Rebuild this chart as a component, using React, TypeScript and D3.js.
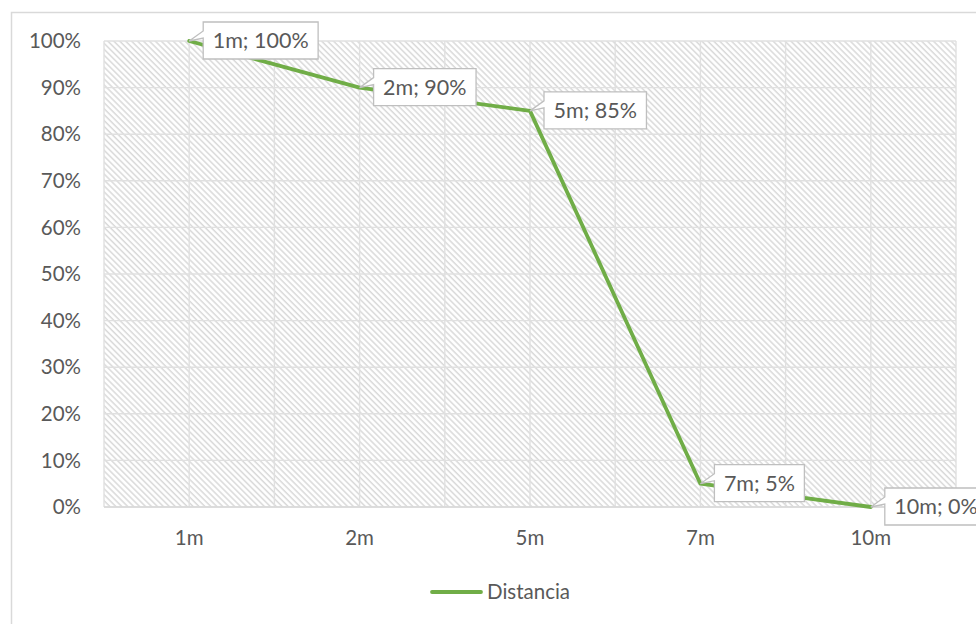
import React from "react";
import * as d3 from "d3";

const categories = ["1m", "2m", "5m", "7m", "10m"];
const values = [1.0, 0.9, 0.85, 0.05, 0.0];
const yTicks = [0, 0.1, 0.2, 0.3, 0.4, 0.5, 0.6, 0.7, 0.8, 0.9, 1.0];
const seriesName = "Distancia";

const W = 976;
const H = 624;
const FONT = "Lato, 'Open Sans', sans-serif";
const TXT = "#595959";
const GREEN = "#70ad47";
const LABEL_FS = 21.5;

function measure(text: string, size: number): number {
  if (typeof document === "undefined") return text.length * size * 0.5;
  const c = document.createElement("canvas");
  const ctx = c.getContext("2d");
  if (!ctx) return text.length * size * 0.5;
  ctx.font = `${size}px Lato`;
  return ctx.measureText(text).width;
}

export default function App() {
  const left = 104, right = 956, top = 41, bottom = 507;
  const x = d3.scaleBand<string>().domain(categories).range([left, right]);
  const y = d3.scaleLinear().domain([0, 1]).range([bottom, top]);
  const cx = (c: string) => (x(c) as number) + x.bandwidth() / 2;
  const line = d3
    .line<number>()
    .x((_, i) => cx(categories[i]))
    .y((d) => y(d));

  const vLines: number[] = [];
  categories.forEach((c) => {
    vLines.push(x(c) as number);
    vLines.push(cx(c));
  });
  vLines.push(right);

  const fmt = d3.format(".0%");

  return (
    <svg
      width={W}
      height={H}
      style={{ position: "absolute", left: 0, top: 0, background: "#fff" }}
      fontFamily={FONT}
    >
      <defs>
        <pattern id="hatch" width="4.2" height="4.2" patternUnits="userSpaceOnUse" patternTransform="rotate(-45)">
          <rect width="4.2" height="4.2" fill="#ffffff" />
          <line x1="1" y1="0" x2="1" y2="4.2" stroke="#d9d9d9" strokeWidth="1.5" />
        </pattern>
      </defs>
      <rect x={11.5} y={12.5} width={W} height={H} fill="#fff" stroke="#d9d9d9" strokeWidth={1.5} />
      <rect x={left} y={top} width={right - left} height={bottom - top} fill="url(#hatch)" />
      {yTicks.map((t) => (
        <line key={"h" + t} x1={left} x2={right} y1={y(t)} y2={y(t)} stroke="#e0e0e0" strokeWidth={1.4} />
      ))}
      {vLines.map((v, i) => (
        <line key={"v" + i} x1={v} x2={v} y1={top} y2={bottom} stroke="#e0e0e0" strokeWidth={1.4} />
      ))}
      <line x1={left} x2={right} y1={bottom} y2={bottom} stroke="#d9d9d9" strokeWidth={1.5} />
      {yTicks.map((t) => (
        <text key={"yt" + t} x={81} y={y(t)} dy="0.35em" textAnchor="end" fontSize={20.5} fill={TXT}>
          {fmt(t)}
        </text>
      ))}
      {categories.map((c) => (
        <text key={"xt" + c} x={cx(c)} y={545} textAnchor="middle" fontSize={20.5} fill={TXT}>
          {c}
        </text>
      ))}
      <path d={line(values) as string} fill="none" stroke={GREEN} strokeWidth={3.8} strokeLinejoin="round" strokeLinecap="round" />
      {values.map((v, i) => {
        const px = cx(categories[i]);
        const py = y(v);
        const label = `${categories[i]}; ${fmt(v)}`;
        const tw = measure(label, LABEL_FS);
        const bw = tw + 19;
        const bh = 37;
        const bl = px + 14;
        const bt = py - 19;
        const d = `M${bl},${bt} L${bl + bw},${bt} L${bl + bw},${bt + bh} L${bl},${bt + bh} L${bl},${bt + 16} L${px},${py} L${bl},${bt + 9} Z`;
        return (
          <g key={"lab" + i}>
            <path d={d} fill="#fff" stroke="#bfbfbf" strokeWidth={1.3} />
            <text x={bl + 9.5} y={bt + bh / 2} dy="0.35em" fontSize={LABEL_FS} fill={TXT}>
              {label}
            </text>
          </g>
        );
      })}
      <line x1={432} x2={481} y1={592} y2={592} stroke={GREEN} strokeWidth={3.8} strokeLinecap="round" />
      <text x={487} y={592} dy="0.35em" fontSize={20.5} fill={TXT}>
        {seriesName}
      </text>
    </svg>
  );
}
